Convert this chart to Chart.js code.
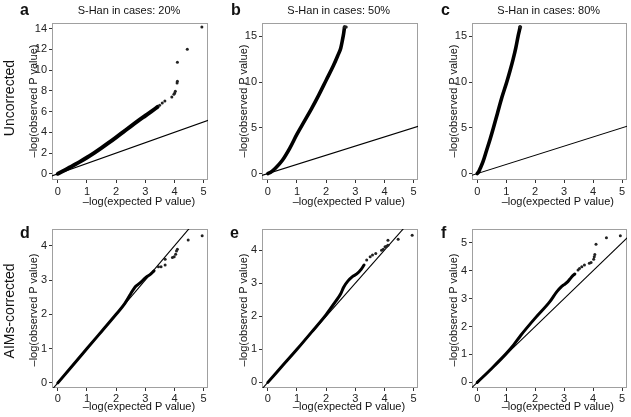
<!DOCTYPE html>
<html><head><meta charset="utf-8">
<script src="https://cdn.jsdelivr.net/npm/chart.js@4.4.1/dist/chart.umd.min.js"></script>
<style>
html,body{margin:0;padding:0;background:#fff;}
#wrap{position:relative;width:631px;height:417px;overflow:hidden;font-family:"Liberation Sans",Arial,sans-serif;color:#111;}
canvas{position:absolute;}
.t{position:absolute;white-space:nowrap;transform:translate(-50%,-50%);line-height:1;}
.rot{transform:translate(-50%,-50%) rotate(-90deg);}
.lt{position:absolute;font-weight:bold;font-size:16px;line-height:16px;}
</style></head><body>
<div id="wrap">
<canvas id="cA"></canvas><canvas id="cB"></canvas><canvas id="cC"></canvas>
<canvas id="cD"></canvas><canvas id="cE"></canvas><canvas id="cF"></canvas>
</div>
<script>
// ---------- DATA ----------
const panelLetters = ['a','b','c','d','e','f'];
const panelTitles = ['S-Han in cases: 20%','S-Han in cases: 50%','S-Han in cases: 80%'];
const rowLabels = ['Uncorrected','AIMs-corrected'];
const xAxisLabel = '\u2013log(expected P value)';
const yAxisLabel = '\u2013log(observed P value)';

const xTicks = [0,1,2,3,4,5];
const yTicksA = [0,2,4,6,8,10,12,14];
const yTicksBC = [0,5,10,15];
const yTicksDE = [0,1,2,3,4];
const yTicksF = [0,1,2,3,4,5];

// expected vs observed (-log10 p): dense body of each QQ curve
const denseA = [[0,0],[0.25,0.36],[0.5,0.76],[0.75,1.15],[1,1.57],[1.25,2.02],[1.5,2.5],[1.75,3.0],[2,3.52],[2.25,4.05],[2.5,4.58],[2.75,5.1],[3,5.6],[3.2,6.0],[3.42,6.45]];
const tailA = [[3.49,6.62],[3.58,6.84],[3.67,7.03],[3.91,7.42],[3.98,7.68],[4.01,7.8],[4.03,7.97],[4.09,8.77],[4.1,8.93],[4.1,10.76],[4.44,12.01],[4.94,14.16]];

const denseB = [[0,0],[0.1,0.15],[0.25,0.55],[0.5,1.45],[0.75,2.75],[1,4.3],[1.25,5.7],[1.5,7.1],[1.75,8.6],[2,10.2],[2.25,11.8],[2.4,12.9],[2.5,13.7],[2.56,14.6],[2.6,15.3],[2.63,16.0]];
const tailB = [[2.62,16.0],[2.66,16.0],[2.69,16.02]];

const denseC = [[0,0],[0.05,0.2],[0.1,0.55],[0.2,1.3],[0.32,2.5],[0.45,3.8],[0.56,5.0],[0.7,6.6],[0.85,8.3],[1.02,10],[1.13,11.2],[1.24,12.5],[1.33,13.7],[1.41,15],[1.46,15.7],[1.48,16]];
const tailC = [[1.47,16.0],[1.5,16.02]];

const denseD = [[0,0],[0.5,0.5],[1,1.0],[1.5,1.5],[2,2.0],[2.3,2.32],[2.5,2.6],[2.65,2.8],[2.8,2.9],[2.95,3.02],[3.05,3.1],[3.15,3.15],[3.3,3.27]];
const tailD = [[3.45,3.39],[3.54,3.39],[3.68,3.44],[3.68,3.61],[3.93,3.66],[3.99,3.68],[4.04,3.75],[4.07,3.85],[4.10,3.90],[4.47,4.17],[4.95,4.29]];

const denseE = [[0,0],[0.5,0.5],[1,1.0],[1.5,1.52],[2,2.05],[2.3,2.42],[2.5,2.68],[2.6,2.88],[2.75,3.07],[2.9,3.2],[3.05,3.28],[3.2,3.42],[3.3,3.55]];
const tailE = [[3.39,3.70],[3.51,3.80],[3.59,3.85],[3.70,3.9],[3.90,4.0],[3.96,4.03],[4.02,4.10],[4.07,4.12],[4.12,4.15],[4.12,4.30],[4.47,4.33],[4.95,4.45]];

const denseF = [[0,0],[0.5,0.5],[1,1.03],[1.25,1.33],[1.5,1.68],[2,2.3],[2.5,2.88],[2.75,3.25],[2.9,3.42],[3.0,3.5],[3.1,3.58],[3.2,3.7],[3.3,3.82],[3.37,3.88]];
const tailF = [[3.48,4.02],[3.53,4.08],[3.61,4.14],[3.70,4.20],[3.87,4.26],[3.93,4.29],[4.02,4.41],[4.04,4.50],[4.06,4.58],[4.10,4.94],[4.46,5.18],[4.94,5.25]];

// null line y = x (drawn across the plot, clipped)
const nullLine = [-1, 20];

// axis ranges
const rangesX = {A:[-0.2,5.15],B:[-0.2,5.15],C:[-0.18,5.17],D:[-0.2,5.15],E:[-0.2,5.15],F:[-0.18,5.17]};
const rangesY = {A:[-0.6,14.55],B:[-0.7,16.45],C:[-0.7,16.45],D:[-0.15,4.49],E:[-0.17,4.64],F:[-0.2,5.49]};

// ---------- LAYOUT ----------
const FONT = '"Liberation Sans", Arial, sans-serif';
const geom = {
  A:{l:0,  t:0,  w:212,h:212,yw:52,pr:1,pt:23,xh:32,xpad:2.5,bw:4},
  B:{l:212,t:0,  w:210,h:212,yw:50,pr:2,pt:23,xh:32,xpad:2.5,bw:3.6},
  C:{l:422,t:0,  w:209,h:212,yw:50,pr:1,pt:23,xh:32,xpad:2.5,bw:3.6},
  D:{l:0,  t:212,w:212,h:205,yw:52,pr:1,pt:17,xh:29,xpad:1,bw:3},
  E:{l:212,t:212,w:210,h:205,yw:50,pr:2,pt:17,xh:29,xpad:1,bw:3},
  F:{l:422,t:212,w:209,h:205,yw:50,pr:1,pt:17,xh:29,xpad:1,bw:3}
};

const boxPlugin = {id:'box', beforeDatasetsDraw(ch){
  const a = ch.chartArea, ctx = ch.ctx;
  ctx.save(); ctx.strokeStyle = '#a0a0a0'; ctx.lineWidth = 1;
  ctx.strokeRect(Math.round(a.left)+0.5, Math.round(a.top)+0.5, Math.round(a.right-a.left)-1, Math.round(a.bottom-a.top)-1);
  ctx.restore();
}};

const toXY = arr => arr.map(p => ({x:p[0], y:p[1]}));

function makePanel(key, dense, tail, yTicks){
  const g = geom[key];
  const c = document.getElementById('c'+key);
  c.width = g.w; c.height = g.h;
  c.style.left = g.l+'px'; c.style.top = g.t+'px';
  c.style.width = g.w+'px'; c.style.height = g.h+'px';
  new Chart(c, {
    type:'scatter',
    data:{datasets:[
      {type:'line', data: nullLine.map(v=>({x:v,y:v})), borderColor:'#000', borderWidth:1.1, pointRadius:0, clip:0, order:3},
      {type:'line', data: toXY(dense), borderColor:'#000', borderWidth:g.bw, borderCapStyle:'round', pointRadius:0, cubicInterpolationMode:'monotone', clip:0, order:2},
      {data: toXY(tail), pointRadius:1.5, backgroundColor:'#222', borderColor:'#222', borderWidth:0, clip:0, order:1}
    ]},
    options:{
      responsive:false, animation:false, devicePixelRatio:1, events:[],
      layout:{padding:{top:g.pt, right:g.pr, left:0, bottom:0}},
      plugins:{legend:{display:false}, tooltip:{enabled:false}},
      scales:{
        x:{type:'linear', min:rangesX[key][0], max:rangesX[key][1],
           afterFit:s=>{s.height=g.xh;},
           afterBuildTicks:s=>{s.ticks = xTicks.map(v=>({value:v}));},
           grid:{drawOnChartArea:false, drawTicks:true, tickLength:3, color:'#333'},
           border:{display:false},
           ticks:{padding:g.xpad, color:'#222', maxRotation:0, autoSkip:false, font:{family:FONT,size:11}, callback:v=>String(v)}},
        y:{type:'linear', min:rangesY[key][0], max:rangesY[key][1],
           afterFit:s=>{s.width=g.yw;},
           afterBuildTicks:s=>{s.ticks = yTicks.map(v=>({value:v}));},
           grid:{drawOnChartArea:false, drawTicks:true, tickLength:3, color:'#333'},
           border:{display:false},
           ticks:{padding:2, color:'#222', autoSkip:false, font:{family:FONT,size:11}, callback:v=>String(v)}}
      }
    },
    plugins:[boxPlugin]
  });
}

makePanel('A', denseA, tailA, yTicksA);
makePanel('B', denseB, tailB, yTicksBC);
makePanel('C', denseC, tailC, yTicksBC);
makePanel('D', denseD, tailD, yTicksDE);
makePanel('E', denseE, tailE, yTicksDE);
makePanel('F', denseF, tailF, yTicksF);

// ---------- TEXT ----------
const wrap = document.getElementById('wrap');
function addText(txt, x, y, size, cls, extra){
  const d = document.createElement('div');
  d.className = cls; d.textContent = txt;
  d.style.left = x+'px'; d.style.top = y+'px'; d.style.fontSize = size+'px';
  if (extra) Object.assign(d.style, extra);
  wrap.appendChild(d);
}
const letterPos = [[20,2],[231,2],[441,2],[20,225],[230,225],[441,225]];
panelLetters.forEach((L,i)=>addText(L, letterPos[i][0], letterPos[i][1], 16, 'lt'));
const titlePos = [[129,10],[338.7,10],[548.7,10]];
panelTitles.forEach((T,i)=>addText(T, titlePos[i][0], titlePos[i][1], 11, 't'));
const rowPos = [[9,98],[9,311]];
rowLabels.forEach((R,i)=>addText(R, rowPos[i][0], rowPos[i][1], 14, 't rot'));
const yTitlePos = [[33,101],[243.3,101],[453.3,101],[33,310],[243,310],[452.7,310]];
yTitlePos.forEach(p=>addText(yAxisLabel, p[0], p[1], 11, 't rot'));
const xTitlePos = [[139,201],[348.8,201],[557.8,201],[139,406],[349,406],[557.8,406]];
xTitlePos.forEach(p=>addText(xAxisLabel, p[0], p[1], 11, 't'));
</script>
</body></html>
